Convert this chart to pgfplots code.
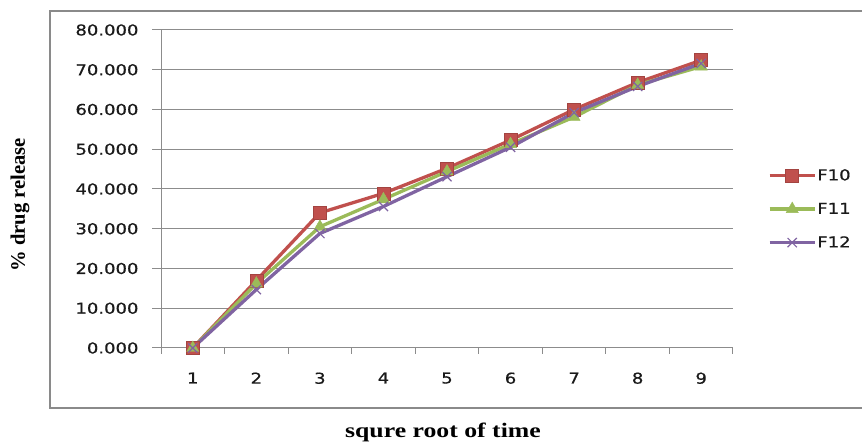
\documentclass[border=0pt]{standalone}
\usepackage{fontspec}
\setmainfont{DejaVu Sans}[FakeStretch=1.2, FakeBold=0.6]
\newfontfamily\titlefont{Liberation Serif}[FakeStretch=1.25]
\newfontfamily\ytitlefont{Liberation Serif}
\usepackage{pgfplots}
\pgfplotsset{compat=1.18}

\definecolor{gridgray}{HTML}{8C8C8C}
\definecolor{framegray}{HTML}{8A8A8A}
\definecolor{cF10}{HTML}{C0504D}
\definecolor{cF11}{HTML}{9BBB59}
\definecolor{cF12}{HTML}{8064A2}
\definecolor{labelink}{HTML}{1A1A1A}

\pgfplotstableread{
x  F10   F11   F12
1  0.0   0.0   0.0
2  17.0  16.2  14.7
3  34.0  30.5  28.8
4  38.9  37.4  35.6
5  45.2  44.4  43.1
6  52.3  51.3  50.5
7  60.0  58.1  59.2
8  66.8  66.2  65.8
9  72.4  70.8  71.6
}\release

\begin{document}
\begin{tikzpicture}
\path[use as bounding box] (0pt,0pt) rectangle (862pt,443pt);
% chart area frame, running past the right edge
\draw[framegray, line width=1.2pt] (50pt,35pt) rectangle (880pt,432pt);

\begin{axis}[
  at={(161pt,95pt)}, anchor=origin,
  scale only axis, width=572pt, height=318pt,
  xmin=0.5, xmax=9.5, ymin=0, ymax=80,
  axis x line*=bottom, axis y line*=left,
  axis line style={gridgray, line width=1pt, -},
  xtick={1,...,9},
  major x tick style={draw=none},
  minor xtick={0.5,1.5,...,9.5},
  minor x tick style={gridgray, line width=1pt},
  minor tick length=6pt,
  ytick={0,10,...,80},
  major tick length=9pt,
  y tick style={gridgray, line width=1pt},
  tick align=outside,
  ymajorgrids,
  major grid style={gridgray, line width=1pt},
  /pgf/number format/assume math mode=true,
  yticklabel={\pgfmathprintnumber[fixed, fixed zerofill, precision=3]{\tick}},
  ticklabel style={font=\fontsize{15}{18}\selectfont, text=labelink},
  yticklabel style={xshift=-10pt},
  xticklabel style={yshift=-12pt},
  legend style={
    at={(1.061,0.566)}, anchor=north west,
    draw=none, fill=none, inner sep=0pt,
    font=\fontsize{15}{18}\selectfont, text=labelink,
    row sep=19pt,
    nodes={inner sep=1pt, anchor=west},
  },
  legend cell align=left,
  legend image code/.code={
    \draw[mark repeat=2, mark phase=2] plot coordinates {(0pt,0pt) (22.5pt,0pt) (45pt,0pt)};
  },
  clip=false,
]
\addplot[cF10, line width=3.3pt, mark=square*, mark size=6.5pt,
  mark options={line width=0.6pt, fill=cF10, draw=cF10!85!black}]
  table[x=x, y=F10] {\release};
\addlegendentry{F10}
\addplot[cF11, line width=3.3pt, mark=triangle*, mark size=7pt,
  mark options={line width=0.4pt, fill=cF11, draw=cF11}]
  table[x=x, y=F11] {\release};
\addlegendentry{F11}
\addplot[cF12, line width=3.3pt, mark=x, mark size=6.5pt,
  mark options={line width=1.2pt}]
  table[x=x, y=F12] {\release};
\addlegendentry{F12}
\end{axis}

\node[font=\titlefont\bfseries\fontsize{20.6}{24}\selectfont, text=black] at (443pt,11pt) {squre root of time};
\node[font=\ytitlefont\bfseries\fontsize{20.6}{24}\selectfont, text=black, rotate=90] at (20pt,238pt) {\% drug release};
\end{tikzpicture}
\end{document}
